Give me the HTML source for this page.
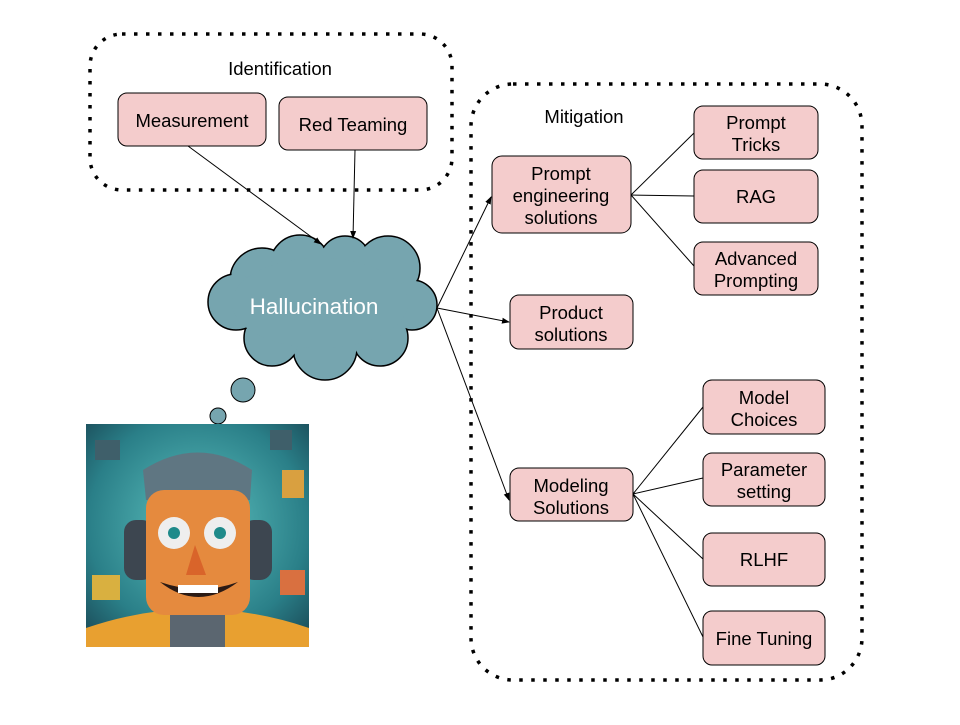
<!DOCTYPE html>
<html><head><meta charset="utf-8"><style>
body{margin:0;background:#fff}
svg text{font-family:"Liberation Sans",sans-serif}
</style></head><body>
<svg width="960" height="720" viewBox="0 0 960 720" xmlns="http://www.w3.org/2000/svg">
<defs>
<marker id="a" markerWidth="8" markerHeight="8" refX="7" refY="4" orient="auto" markerUnits="userSpaceOnUse"><path d="M0,1 L8,4 L0,7z" fill="#000"/></marker>
<radialGradient id="bg" cx="50%" cy="45%" r="70%"><stop offset="0" stop-color="#5ec3c0"/><stop offset="0.7" stop-color="#2a7f88"/><stop offset="1" stop-color="#1b4d5a"/></radialGradient>
</defs>
<g fill="none" stroke="#000" stroke-width="3.5" stroke-dasharray="3.5 8.5" stroke-linecap="butt">
<rect x="90" y="34" width="362" height="156" rx="32"/>
<rect x="471" y="84" width="391" height="596" rx="42"/>
</g>
<g font-size="18.5" fill="#000" text-anchor="middle">
<text x="280" y="75">Identification</text>
<text x="584" y="123">Mitigation</text>
</g>
<g fill="#76a5af" stroke="#000" stroke-width="1.5">
<circle cx="262" cy="280" r="32"/>
<circle cx="300" cy="265" r="30"/><circle cx="345" cy="262" r="26"/>
<circle cx="388" cy="268" r="32"/><circle cx="412" cy="305" r="25"/>
<circle cx="380" cy="338" r="28"/><circle cx="325" cy="348" r="32"/>
<circle cx="272" cy="338" r="28"/><circle cx="236" cy="302" r="28"/>
</g>
<g fill="#76a5af">
<circle cx="262" cy="280" r="31"/>
<circle cx="300" cy="265" r="29"/><circle cx="345" cy="262" r="25"/>
<circle cx="388" cy="268" r="31"/><circle cx="412" cy="305" r="24"/>
<circle cx="380" cy="338" r="27"/><circle cx="325" cy="348" r="31"/>
<circle cx="272" cy="338" r="27"/><circle cx="236" cy="302" r="27"/>
<ellipse cx="320" cy="303" rx="88" ry="45"/>
</g>
<text x="314" y="314" font-size="22.5" fill="#fff" text-anchor="middle">Hallucination</text>
<g stroke="#000" stroke-width="1" fill="none">
<line x1="188" y1="146" x2="321" y2="244" marker-end="url(#a)"/>
<line x1="355" y1="150" x2="353" y2="238" marker-end="url(#a)"/>
<line x1="437" y1="308" x2="491" y2="197" marker-end="url(#a)"/>
<line x1="437" y1="308" x2="509" y2="322" marker-end="url(#a)"/>
<line x1="437" y1="308" x2="509" y2="500" marker-end="url(#a)"/>
<line x1="631" y1="195" x2="694" y2="133"/>
<line x1="631" y1="195" x2="694" y2="196"/>
<line x1="631" y1="195" x2="694" y2="266"/>
<line x1="633" y1="494" x2="703" y2="407"/>
<line x1="633" y1="494" x2="703" y2="478"/>
<line x1="633" y1="494" x2="703" y2="559"/>
<line x1="633" y1="494" x2="703" y2="637"/>
</g>
<g fill="#f4cccc" stroke="#000" stroke-width="1">
<rect x="118" y="93" width="148" height="53" rx="9"/>
<rect x="279" y="97" width="148" height="53" rx="9"/>
<rect x="492" y="156" width="139" height="77" rx="10"/>
<rect x="694" y="106" width="124" height="53" rx="9"/>
<rect x="694" y="170" width="124" height="53" rx="9"/>
<rect x="694" y="242" width="124" height="53" rx="9"/>
<rect x="510" y="295" width="123" height="54" rx="9"/>
<rect x="510" y="468" width="123" height="53" rx="9"/>
<rect x="703" y="380" width="122" height="54" rx="9"/>
<rect x="703" y="453" width="122" height="53" rx="9"/>
<rect x="703" y="533" width="122" height="53" rx="9"/>
<rect x="703" y="611" width="122" height="54" rx="9"/>
</g>
<g font-size="18.5" fill="#000" text-anchor="middle">
<text x="192" y="127">Measurement</text>
<text x="353" y="131">Red Teaming</text>
<text x="561" y="180">Prompt</text><text x="561" y="202">engineering</text><text x="561" y="224">solutions</text>
<text x="756" y="129">Prompt</text><text x="756" y="151">Tricks</text>
<text x="756" y="203">RAG</text>
<text x="756" y="265">Advanced</text><text x="756" y="287">Prompting</text>
<text x="571" y="319">Product</text><text x="571" y="341">solutions</text>
<text x="571" y="492">Modeling</text><text x="571" y="514">Solutions</text>
<text x="764" y="404">Model</text><text x="764" y="426">Choices</text>
<text x="764" y="476">Parameter</text><text x="764" y="498">setting</text>
<text x="764" y="566">RLHF</text>
<text x="764" y="645">Fine Tuning</text>
</g>
<circle cx="243" cy="390" r="12" fill="#76a5af" stroke="#000" stroke-width="1"/>
<circle cx="218" cy="416" r="8" fill="#76a5af" stroke="#000" stroke-width="1"/>
<g>
<rect x="86" y="424" width="223" height="223" fill="url(#bg)"/>
<path d="M86 628 Q197 590 309 628 L309 647 L86 647z" fill="#e8a030"/>
<rect x="170" y="600" width="55" height="47" fill="#5b6670"/>
<rect x="124" y="520" width="30" height="60" rx="12" fill="#3d4650"/>
<rect x="242" y="520" width="30" height="60" rx="12" fill="#3d4650"/>
<path d="M143 470 Q198 435 252 470 L250 500 L146 500z" fill="#5f7682"/>
<rect x="146" y="490" width="104" height="125" rx="18" fill="#e58a3e"/>
<circle cx="174" cy="533" r="16" fill="#eee"/><circle cx="220" cy="533" r="16" fill="#eee"/>
<circle cx="174" cy="533" r="6" fill="#1f8a8a"/><circle cx="220" cy="533" r="6" fill="#1f8a8a"/>
<path d="M195 545 L186 575 L206 575z" fill="#d9642a"/>
<path d="M160 582 Q198 612 238 582 Q200 596 160 582z" fill="#2b1a14"/>
<rect x="178" y="585" width="40" height="8" fill="#fff"/>
<rect x="95" y="440" width="25" height="20" fill="#3f5f6a"/><rect x="270" y="430" width="22" height="20" fill="#3f5f6a"/>
<rect x="282" y="470" width="22" height="28" fill="#d9a040"/><rect x="92" y="575" width="28" height="25" fill="#d9b040"/>
<rect x="280" y="570" width="25" height="25" fill="#d97040"/>
</g>
</svg>
</body></html>
